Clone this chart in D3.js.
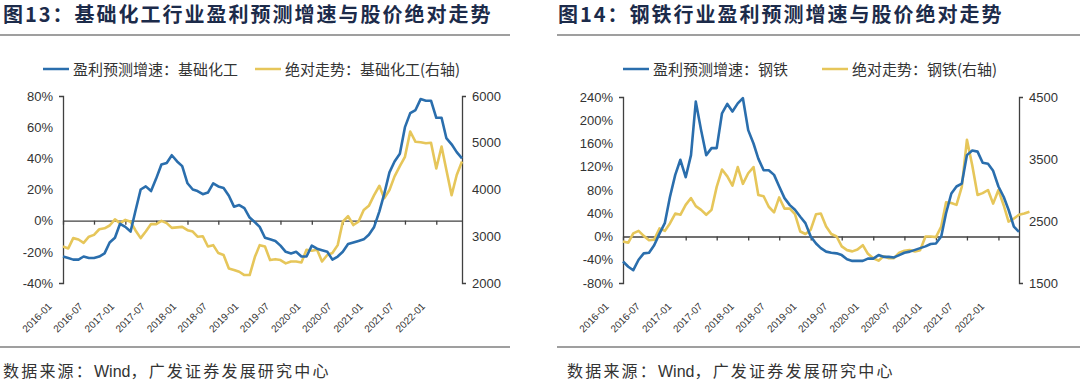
<!DOCTYPE html>
<html>
<head>
<meta charset="utf-8">
<script src="https://cdnjs.cloudflare.com/ajax/libs/d3/7.8.5/d3.min.js"></script>
<style>
  body { margin: 0; background: #fff; }
  svg { display: block; }
  .tick text { font-family: "Liberation Sans", Arial, sans-serif; font-size: 13px; fill: #333; }
</style>
</head>
<body>
<svg id="chart" width="1080" height="390"></svg>
<script>
// x tick labels every 6 months
const tickLabels = ["2016-01","2016-07","2017-01","2017-07","2018-01","2018-07","2019-01",
                    "2019-07","2020-01","2020-07","2021-01","2021-07","2022-01"];

// 基础化工: monthly, 2016-01 .. 2022-06
const chemGrowth = [
  -23,-24,-25,-25,-23,-24,-24,-23,-21,-14,-11,-2,
  -4,-7,6,20,22,19,27,36,37,42,38,35,
  24,20,19,17,18,24,22,21,16,9,10,8,
  2,-1,-4,-11,-12,-13,-16,-20,-21,-20,-23,-23,
  -16,-18,-19,-20,-25,-23,-20,-15,-14,-13,-12,-9,
  -4,6,17,31,38,43,60,69,71,78,77,77,
  66,66,53,49,44,40
];
const chemPrice = [
  2780,2740,2960,2930,2860,2990,3030,3150,3170,3230,3360,3280,
  3350,3310,3130,2960,3100,3260,3260,3330,3280,3180,3190,3200,
  3130,3100,2990,3000,2780,2810,2640,2600,2310,2280,2240,2170,
  2170,2560,2810,2780,2490,2510,2490,2420,2460,2460,2440,2710,
  2690,2710,2460,2600,2640,2810,3310,3430,3240,3310,3560,3650,
  3880,4080,3810,3990,4280,4500,4700,5240,5020,5010,4990,5000,
  4450,4920,4420,3880,4310,4600
];

// 钢铁: growth 2016-01 .. 2022-05, price 2016-01 .. 2022-07
const steelGrowth = [
  -43,-52,-58,-40,-29,-28,-15,5,23,68,106,132,
  102,140,232,183,140,152,152,212,228,215,229,238,
  183,160,134,114,114,106,86,66,54,46,34,23,
  0,-12,-20,-26,-28,-29,-32,-39,-42,-42,-42,-38,
  -38,-32,-35,-35,-36,-32,-28,-26,-23,-20,-17,-13,
  -12,0,40,74,86,91,140,148,146,127,125,113,
  86,68,46,17,8
];
const steelPrice = [
  2170,2150,2300,2340,2260,2190,2200,2380,2340,2460,2620,2600,
  2760,2870,2740,2680,2600,2680,3050,3330,3220,3070,3370,3100,
  3270,3370,2920,2900,2730,2640,2880,2700,2700,2610,2330,2290,
  2360,2610,2620,2410,2290,2250,2090,2030,2010,2040,2110,1970,
  1900,1860,1930,1900,1900,1990,2020,2030,2010,2030,2250,2250,
  2240,2410,2800,2790,2760,3050,3810,3400,2920,2950,3000,2780,
  3000,2750,2490,2540,2600,2620,2650
];

const BLUE = "#2a6ead", GOLD = "#e6c65a";
const CJK = "'Noto Sans CJK SC', sans-serif";
const svg = d3.select("#chart");
const start = new Date(Date.UTC(2016, 0, 1));
const monthDates = n => d3.utcMonth.range(start, d3.utcMonth.offset(start, n));

function drawPanel(cfg) {
  const g = svg.append("g");

  // title + rules
  g.append("text")
    .attr("x", cfg.ox + 3).attr("y", 22)
    .attr("font-family", CJK)
    .attr("font-weight", 700).attr("font-size", 20)
    .style("letter-spacing", "2px")
    .attr("fill", "#1c2b4a")
    .text(cfg.title);
  g.append("line").attr("x1", cfg.ruleX1).attr("x2", cfg.ruleX2).attr("y1", 35).attr("y2", 35)
    .attr("stroke", "#7f7f7f").attr("stroke-width", 1.5);
  g.append("line").attr("x1", cfg.ruleX1).attr("x2", cfg.ruleX2).attr("y1", 347).attr("y2", 347)
    .attr("stroke", "#7f7f7f").attr("stroke-width", 1.5);
  let foot = g.append("text")
    .attr("x", cfg.footX).attr("y", 377)
    .attr("font-family", CJK)
    .attr("font-size", 16).style("letter-spacing", "2.2px").attr("fill", "#333");
  foot.append("tspan").text("数据来源：");
  foot.append("tspan").attr("font-family", "'Liberation Sans', Arial, sans-serif")
    .style("letter-spacing", "0px").text("Wind");
  foot.append("tspan").text("，广发证券发展研究中心");

  // legend
  cfg.legend.forEach(l => {
    g.append("line").attr("x1", l.x).attr("x2", l.x + 26).attr("y1", 69).attr("y2", 69)
      .attr("stroke", l.color).attr("stroke-width", 2.5);
    g.append("text").attr("x", l.x + 30).attr("y", 74.5)
      .attr("font-family", CJK)
      .attr("font-size", 15).attr("fill", "#333")
      .text(l.label);
  });

  const x = d3.scaleUtc().domain(cfg.xDomain).range([cfg.left, cfg.right]);
  const yL = d3.scaleLinear().domain(cfg.yLDomain).range([cfg.bottom, cfg.top]);
  const yR = d3.scaleLinear().domain(cfg.yRDomain).range([cfg.bottom, cfg.top]);

  const styleAxis = sel => {
    sel.select(".domain").attr("stroke", "#404040").attr("stroke-width", 1.3);
    sel.selectAll(".tick line").attr("stroke", "#404040").attr("stroke-width", 1.3);
  };

  g.append("g").attr("transform", `translate(${cfg.left},0)`)
    .call(d3.axisLeft(yL).tickValues(cfg.yLTicks).tickFormat(d => d + "%")
      .tickSizeInner(0).tickSizeOuter(4).tickPadding(10))
    .call(styleAxis);
  g.append("g").attr("transform", `translate(${cfg.right},0)`)
    .call(d3.axisRight(yR).tickValues(cfg.yRTicks).tickFormat(d3.format("d"))
      .tickSizeInner(0).tickSizeOuter(4).tickPadding(10))
    .call(styleAxis);

  const tickDates = tickLabels.map(s => new Date(s + "-01T00:00:00Z"));
  // zero line with ticks
  g.append("g").attr("transform", `translate(0,${yL(0)})`)
    .call(d3.axisBottom(x).tickValues(tickDates).tickFormat("")
      .tickSizeInner(4).tickSizeOuter(0))
    .call(styleAxis);
  // rotated date labels below the plot
  g.append("g").attr("transform", `translate(0,${cfg.bottom})`)
    .call(d3.axisBottom(x).tickValues(tickDates).tickFormat((d, i) => tickLabels[i])
      .tickSize(0))
    .call(a => a.select(".domain").remove())
    .selectAll("text")
      .attr("text-anchor", "end")
      .attr("dy", null).attr("y", 0)
      .attr("transform", "translate(" + cfg.labelDx + ",24) rotate(-45)")
      .style("font-size", "10px");

  const lineL = d3.line().x(d => x(d[0])).y(d => yL(d[1]));
  const lineR = d3.line().x(d => x(d[0])).y(d => yR(d[1]));
  const growthPts = d3.zip(monthDates(cfg.growth.length), cfg.growth);
  const pricePts = d3.zip(monthDates(cfg.price.length), cfg.price);

  g.append("path").datum(pricePts).attr("d", lineR)
    .attr("fill", "none").attr("stroke", GOLD).attr("stroke-width", 2.6)
    .attr("stroke-linejoin", "round");
  g.append("path").datum(growthPts).attr("d", lineL)
    .attr("fill", "none").attr("stroke", BLUE).attr("stroke-width", 2.6)
    .attr("stroke-linejoin", "round");
}

drawPanel({
  ox: 0, ruleX1: 0, ruleX2: 510, footX: 3, labelDx: -11,
  title: "图13：基础化工行业盈利预测增速与股价绝对走势",
  legend: [
    { x: 43, color: BLUE, label: "盈利预测增速：基础化工" },
    { x: 255, color: GOLD, label: "绝对走势：基础化工(右轴)" }
  ],
  left: 63, right: 462, top: 96, bottom: 283,
  xDomain: [start, new Date(Date.UTC(2022, 5, 1))],
  yLDomain: [-40, 80], yLTicks: [-40, -20, 0, 20, 40, 60, 80],
  yRDomain: [2000, 6000], yRTicks: [2000, 3000, 4000, 5000, 6000],
  growth: chemGrowth, price: chemPrice
});

drawPanel({
  ox: 555, ruleX1: 557, ruleX2: 1080, footX: 567, labelDx: -14,
  title: "图14：钢铁行业盈利预测增速与股价绝对走势",
  legend: [
    { x: 623, color: BLUE, label: "盈利预测增速：钢铁" },
    { x: 822, color: GOLD, label: "绝对走势：钢铁(右轴)" }
  ],
  left: 623, right: 1019, top: 97, bottom: 283,
  xDomain: [start, new Date(Date.UTC(2022, 4, 1))],
  yLDomain: [-80, 240], yLTicks: [-80, -40, 0, 40, 80, 120, 160, 200, 240],
  yRDomain: [1500, 4500], yRTicks: [1500, 2500, 3500, 4500],
  growth: steelGrowth, price: steelPrice
});
</script>
</body>
</html>
